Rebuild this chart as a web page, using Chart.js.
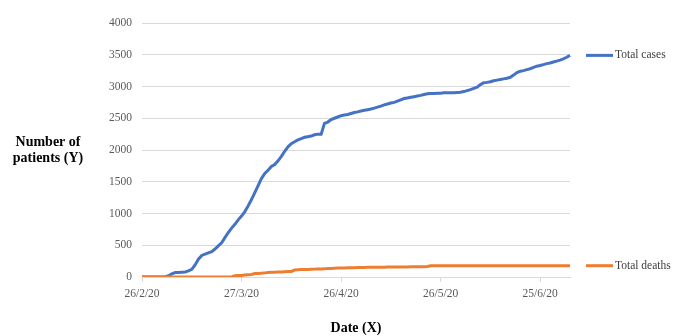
<!DOCTYPE html>
<html>
<head>
<meta charset="utf-8">
<script src="https://cdn.jsdelivr.net/npm/chart.js@4/dist/chart.umd.min.js"></script>
<style>
  html, body { margin: 0; padding: 0; background: #fff; }
  #wrap { width: 677px; height: 336px; }
</style>
</head>
<body>
<div id="wrap"><canvas id="casesChart" width="677" height="336"></canvas></div>
<script>
// Daily dates from 26/2/20 to 4/7/20
const startDate = new Date(2020, 1, 26);
const dayCount = 130;
const dates = [];
for (let i = 0; i < dayCount; i++) {
  const d = new Date(startDate.getFullYear(), startDate.getMonth(), startDate.getDate() + i);
  dates.push(d.getDate() + '/' + (d.getMonth() + 1) + '/' + String(d.getFullYear()).slice(2));
}

// Tick labels shown on the x axis
const tickLabels = ['26/2/20', '27/3/20', '26/4/20', '26/5/20', '25/6/20'];

// Total cases, one value per day
const totalCases = [
  0, 0, 0, 0, 0, 0, 0, 0,
  20, 50, 70, 70, 75, 80, 95, 120, 190, 280, 340, 360, 380, 400,
  440, 490, 540, 620, 700, 770, 830, 900, 960, 1030, 1120, 1220, 1330, 1440,
  1550, 1630, 1680, 1740, 1770, 1830, 1900, 1980, 2050, 2100, 2130, 2160,
  2180, 2200, 2210, 2220, 2240, 2250, 2250, 2420, 2440, 2480, 2500, 2520,
  2540, 2550, 2560, 2575, 2590, 2600, 2615, 2625, 2635, 2645, 2660, 2675,
  2690, 2710, 2725, 2740, 2750, 2770, 2790, 2810, 2820, 2830, 2840, 2850,
  2860, 2875, 2885, 2890, 2890, 2895, 2895, 2900, 2900, 2900, 2900, 2905,
  2910, 2920, 2935, 2950, 2970, 2990, 3030, 3060, 3065, 3075, 3090, 3100,
  3110, 3120, 3130, 3145, 3180, 3220, 3240, 3250, 3265, 3280, 3300, 3320,
  3330, 3345, 3360, 3370, 3385, 3400, 3415, 3435, 3460, 3490
];

// Total deaths, one value per day
const totalDeaths = [
  0, 0, 0, 0, 0, 0, 0, 0, 0, 0, 0, 0, 0, 0, 0, 0, 0, 0, 0, 0,
  0, 0, 0, 0, 0, 0, 0, 0,
  20, 25, 25, 30, 35, 40, 55, 55, 60, 65, 70, 75, 75, 78, 80, 82, 85, 88,
  110, 115, 118, 120, 120, 122, 124, 125, 126, 128, 132, 135, 138, 140,
  140, 142, 144, 145, 146, 148, 148, 150,
  152, 152, 154, 154, 155, 155, 156, 156, 157, 157, 158, 158, 158, 160,
  160, 160, 160, 160, 165, 178,
  178, 178, 178, 178, 178, 178, 178, 178, 178, 178, 178, 178, 178, 178,
  178, 178, 178, 178, 178, 178, 178, 178, 178, 178, 178, 178, 178, 178,
  178, 178, 178, 178, 178, 178, 178, 178, 178, 178, 178, 178, 178, 178
];

const seriesNames = ['Total cases', 'Total deaths'];
const yTitle = ['Number of', 'patients (Y)'];
const xTitle = 'Date (X)';

const serif = "'Liberation Serif', 'DejaVu Serif', serif";

// Axis titles and end-of-line series labels
const annotations = {
  id: 'annotations',
  afterDraw(chart) {
    const ctx = chart.ctx;
    const area = chart.chartArea;
    ctx.save();
    ctx.fillStyle = '#000';
    ctx.font = 'bold 14px ' + serif;
    ctx.textAlign = 'center';
    ctx.textBaseline = 'middle';
    const midY = (area.top + area.bottom) / 2;
    ctx.fillText(yTitle[0], 48, midY - 8);
    ctx.fillText(yTitle[1], 48, midY + 8);
    ctx.fillText(xTitle, (area.left + area.right) / 2, 328);

    chart.data.datasets.forEach((ds, i) => {
      const meta = chart.getDatasetMeta(i);
      const last = meta.data[meta.data.length - 1];
      ctx.strokeStyle = ds.borderColor;
      ctx.lineWidth = 3;
      ctx.beginPath();
      ctx.moveTo(area.right + 16, last.y);
      ctx.lineTo(area.right + 43, last.y);
      ctx.stroke();
      ctx.fillStyle = '#404040';
      ctx.font = '11.5px ' + serif;
      ctx.textAlign = 'left';
      ctx.fillText(ds.label, area.right + 45, last.y);
    });
    ctx.restore();
  }
};

new Chart(document.getElementById('casesChart').getContext('2d'), {
  type: 'line',
  data: {
    labels: dates,
    datasets: [
      {
        label: seriesNames[1],
        data: totalDeaths,
        borderColor: '#ED7D31',
        borderWidth: 3,
        pointRadius: 0,
        tension: 0
      },
      {
        label: seriesNames[0],
        data: totalCases,
        borderColor: '#4472C4',
        borderWidth: 3,
        pointRadius: 0,
        tension: 0
      }
    ]
  },
  options: {
    responsive: false,
    animation: false,
    layout: { padding: { left: 0, right: 107, top: 23, bottom: 0 } },
    plugins: {
      legend: { display: false },
      tooltip: { enabled: false }
    },
    scales: {
      x: {
        type: 'category',
        offset: false,
        afterFit(scale) { scale.height = 59; },
        grid: {
          drawOnChartArea: false,
          drawTicks: true,
          tickLength: 5,
          color: c => tickLabels.includes(dates[c.index]) ? '#d9d9d9' : 'rgba(0,0,0,0)'
        },
        border: { color: '#d9d9d9', width: 1 },
        ticks: {
          autoSkip: false,
          maxRotation: 0,
          padding: 5,
          color: '#595959',
          font: { family: serif, size: 11.5 },
          callback(value, index) {
            const l = dates[index];
            return tickLabels.includes(l) ? l : '';
          }
        }
      },
      y: {
        min: 0,
        max: 4000,
        afterFit(scale) { scale.width = 142; },
        grid: { color: '#d9d9d9', drawTicks: false },
        border: { display: false },
        ticks: {
          stepSize: 500,
          padding: 10,
          color: '#595959',
          font: { family: serif, size: 11.5 },
          callback: value => String(value)
        }
      }
    }
  },
  plugins: [annotations]
});
</script>
</body>
</html>
